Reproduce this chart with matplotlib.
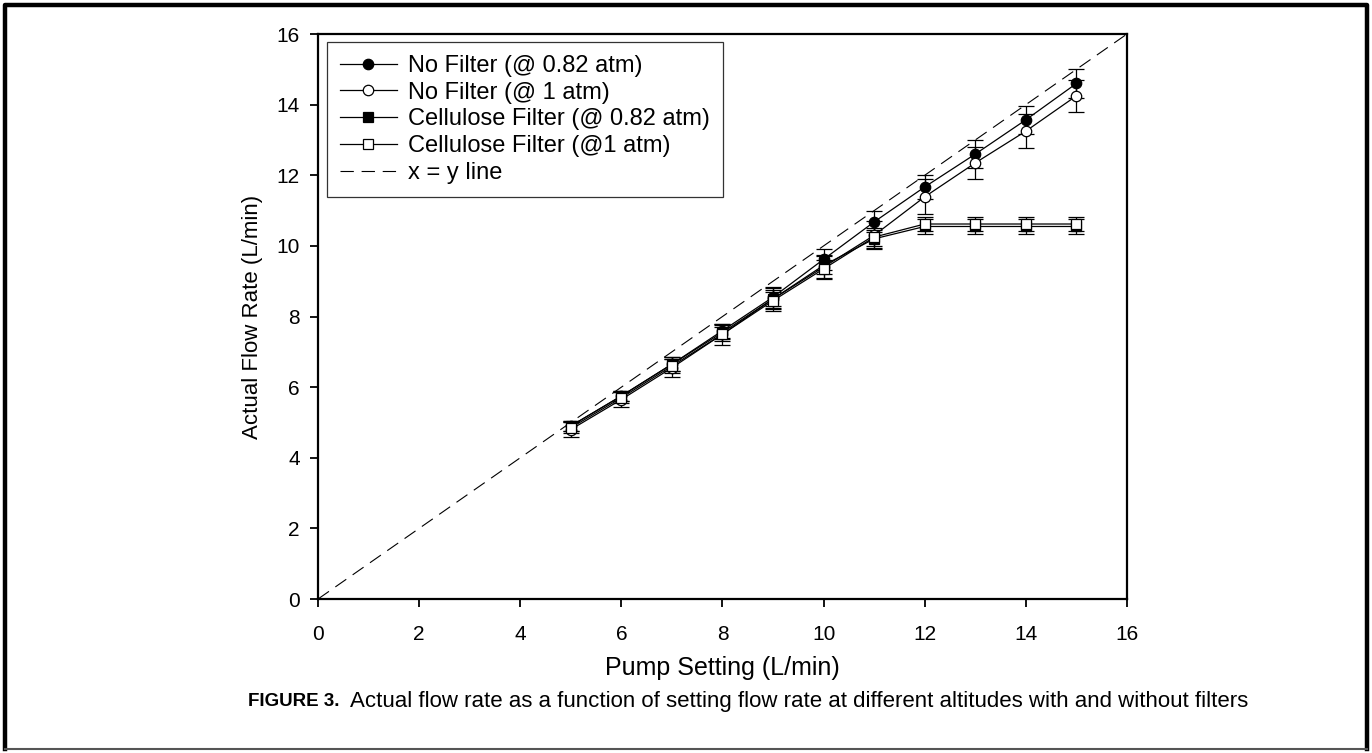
import matplotlib.pyplot as plt
import numpy as np
from matplotlib.lines import Line2D

plt.rcParams['font.family'] = ['Liberation Sans', 'DejaVu Sans']

# pump setting (L/min)
setting = [5, 6, 7, 8, 9, 10, 11, 12, 13, 14, 15]

# actual flow rate readings
nofilt_082 = [4.90, 5.75, 6.65, 7.60, 8.55, 9.62, 10.68, 11.67, 12.60, 13.57, 14.60]
nofilt_1 = [4.80, 5.65, 6.55, 7.50, 8.50, 9.40, 10.30, 11.39, 12.35, 13.25, 14.25]
cell_082 = [4.90, 5.75, 6.65, 7.55, 8.50, 9.45, 10.20, 10.55, 10.55, 10.55, 10.55]
cell_1 = [4.85, 5.70, 6.60, 7.50, 8.45, 9.35, 10.25, 10.62, 10.62, 10.62, 10.62]

err_nofilt_082 = [0.15, 0.15, 0.20, 0.20, 0.25, 0.30, 0.30, 0.35, 0.40, 0.40, 0.40]
err_nofilt_1 = [0.20, 0.20, 0.25, 0.30, 0.35, 0.35, 0.40, 0.50, 0.45, 0.48, 0.45]
err_cell_082 = [0.15, 0.15, 0.20, 0.20, 0.25, 0.25, 0.25, 0.20, 0.20, 0.20, 0.20]
err_cell_1 = [0.15, 0.15, 0.20, 0.20, 0.25, 0.25, 0.25, 0.20, 0.20, 0.20, 0.20]

labels = ["No Filter (@ 0.82 atm)", "No Filter (@ 1 atm)",
          "Cellulose Filter (@ 0.82 atm)", "Cellulose Filter (@1 atm)"]

fig = plt.figure(figsize=(13.72, 7.53), dpi=100)
ax = fig.add_axes([0.2318, 0.2045, 0.5896, 0.7503])

styles = [('o', 'black'), ('o', 'white'), ('s', 'black'), ('s', 'white')]
series = [nofilt_082, nofilt_1, cell_082, cell_1]
errs = [err_nofilt_082, err_nofilt_1, err_cell_082, err_cell_1]

handles = []
for y, e, (m, fc), lab in zip(series, errs, styles, labels):
    ax.errorbar(setting, y, yerr=e, fmt='none', ecolor='black', elinewidth=0.9,
                capsize=6, capthick=0.9, zorder=2)
    h, = ax.plot(setting, y, color='black', lw=0.9, marker=m, ms=7.5,
                 mfc=fc, mec='black', mew=0.9, label=lab, zorder=3)
    handles.append(h)

xy = np.array([0, 16])
h, = ax.plot(xy, xy, color='black', lw=0.8, ls=(0, (12, 7)), label='x = y line', zorder=1)
handles.append(h)

ax.set_xlim(0, 16)
ax.set_ylim(0, 16)
ax.set_xticks(range(0, 17, 2))
ax.set_yticks(range(0, 17, 2))
ax.tick_params(direction='out', length=6, width=1.3, labelsize=15)
ax.tick_params(axis='x', pad=13)
ax.tick_params(axis='y', pad=7)
for s in ax.spines.values():
    s.set_linewidth(1.6)

ax.set_xlabel("Pump Setting (L/min)", fontsize=18, labelpad=8)
ax.set_ylabel("Actual Flow Rate (L/min)", fontsize=16, labelpad=10)

leg = ax.legend(handles=handles, loc='upper left', bbox_to_anchor=(0.011, 0.986),
                fontsize=17, frameon=True, fancybox=False, edgecolor='black',
                handlelength=2.4, handletextpad=0.5, borderpad=0.55,
                labelspacing=0.2, borderaxespad=0)
leg.get_frame().set_linewidth(0.9)

# caption
fig.text(248 / 1372, 1 - 701 / 753, "FIGURE 3.", fontsize=13.5, fontweight='bold',
         va='center', ha='left')
fig.text(350 / 1372, 1 - 701 / 753,
         "Actual flow rate as a function of setting flow rate at different altitudes with and without filters",
         fontsize=16, va='center', ha='left')

# outer border
x0, x1 = 5 / 1372, 1 - 5 / 1372
y0, y1 = 1 - 749 / 753, 1 - 5 / 753
fig.add_artist(Line2D([x0, x0, x1, x1], [y0, y1, y1, y0], color='black', lw=3.2,
                      transform=fig.transFigure))
fig.add_artist(Line2D([x0, x1], [y0, y0], color='#555555', lw=1.5,
                      transform=fig.transFigure))

fig.savefig("out.png", dpi=100)
